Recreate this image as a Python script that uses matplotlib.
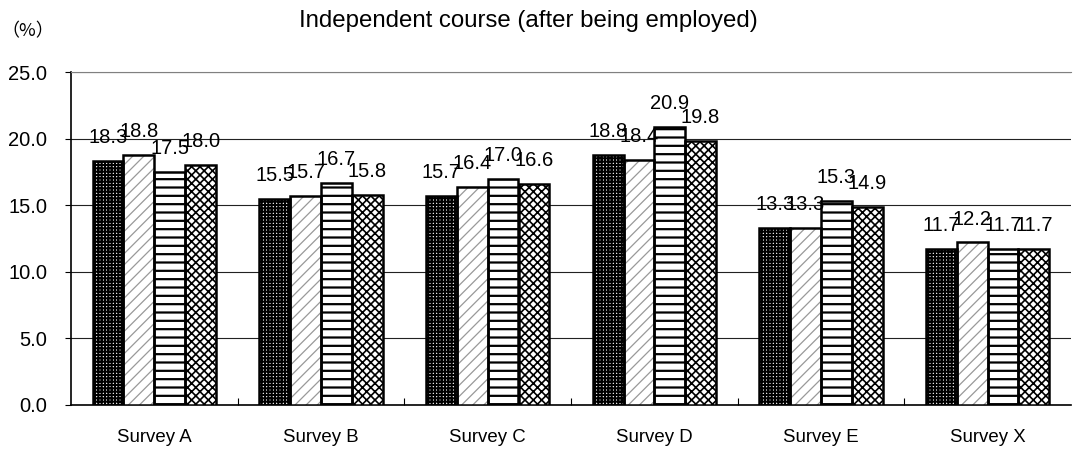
import numpy as np
import matplotlib
matplotlib.use("Agg")
import matplotlib.pyplot as plt

### DATA ###
categories = ["Survey A", "Survey B", "Survey C", "Survey D", "Survey E", "Survey X"]
series_1 = [18.3, 15.5, 15.7, 18.8, 13.3, 11.7]
series_2 = [18.8, 15.7, 16.4, 18.4, 13.3, 12.2]
series_3 = [17.5, 16.7, 17.0, 20.9, 15.3, 11.7]
series_4 = [18.0, 15.8, 16.6, 19.8, 14.9, 11.7]
y_ticks = [0, 5, 10, 15, 20, 25]

title = "Independent course (after being employed)"
unit_label = "（%）"

### STYLE ###
# (face, hatch, hatch colour, hatch linewidth)
styles = [
    ("white", "+++++", "black", 1.5),
    ("white", "///", "#999999", 0.9),
    ("white", "--", "black", 1.6),
    ("white", "xxxx", "black", 1.2),
]

plt.rcParams["font.family"] = ["Liberation Sans", "DejaVu Sans"]

fig = plt.figure(figsize=(10.81, 4.5), dpi=100)
ax = fig.add_axes([71 / 1081, 0.10, 1000 / 1081, 0.74])

x = np.arange(len(categories))
bw = 0.185
all_series = [series_1, series_2, series_3, series_4]

for i, (vals, st) in enumerate(zip(all_series, styles)):
    face, hatch, hcol, hlw = st
    pos = x + (i - 1.5) * bw
    with plt.rc_context({"hatch.linewidth": hlw, "hatch.color": hcol}):
        ax.bar(pos, vals, width=bw, color=face, edgecolor=hcol, hatch=hatch,
               linewidth=0, zorder=3)
    ax.bar(pos, vals, width=bw, facecolor="none", edgecolor="black",
           linewidth=1.8, zorder=4)
    for px, v in zip(pos, vals):
        ax.annotate(f"{v:.1f}", (px, v), xytext=(0, 10), textcoords="offset points",
                    ha="center", va="bottom", fontsize=14.5, zorder=5,
                    family=["Liberation Sans Narrow", "Liberation Sans"])

ax.set_xlim(-0.5, len(categories) - 0.5)
ax.set_ylim(0, 25)
ax.set_yticks(y_ticks)
ax.set_yticklabels([f"{t:.1f}" for t in y_ticks], fontsize=14.5)
ax.yaxis.grid(True, color="#222222", linewidth=0.8, zorder=0)
ax.set_axisbelow(True)

# category separators as minor ticks pointing in
ax.set_xticks(x)
ax.set_xticklabels(categories, fontsize=13.4)
ax.tick_params(axis="x", which="major", length=0, pad=17)
ax.set_xticks(np.arange(0.5, len(categories) - 0.5, 1), minor=True)
ax.tick_params(axis="x", which="minor", direction="in", length=5, width=0.8)
ax.tick_params(axis="y", length=4, width=0.8, pad=13)

ax.spines["right"].set_visible(False)
ax.spines["top"].set_color("#808080")
ax.spines["left"].set_linewidth(1.2)
ax.spines["bottom"].set_linewidth(1.2)

fig.text(528 / 1081, 1 - 21 / 450, title, ha="center", va="center", fontsize=17.3)
fig.text(1 / 1081, 1 - 31 / 450, unit_label, ha="left", va="center", fontsize=13,
         family=["Noto Sans CJK JP", "DejaVu Sans"])

fig.savefig("out.png", dpi=100)
